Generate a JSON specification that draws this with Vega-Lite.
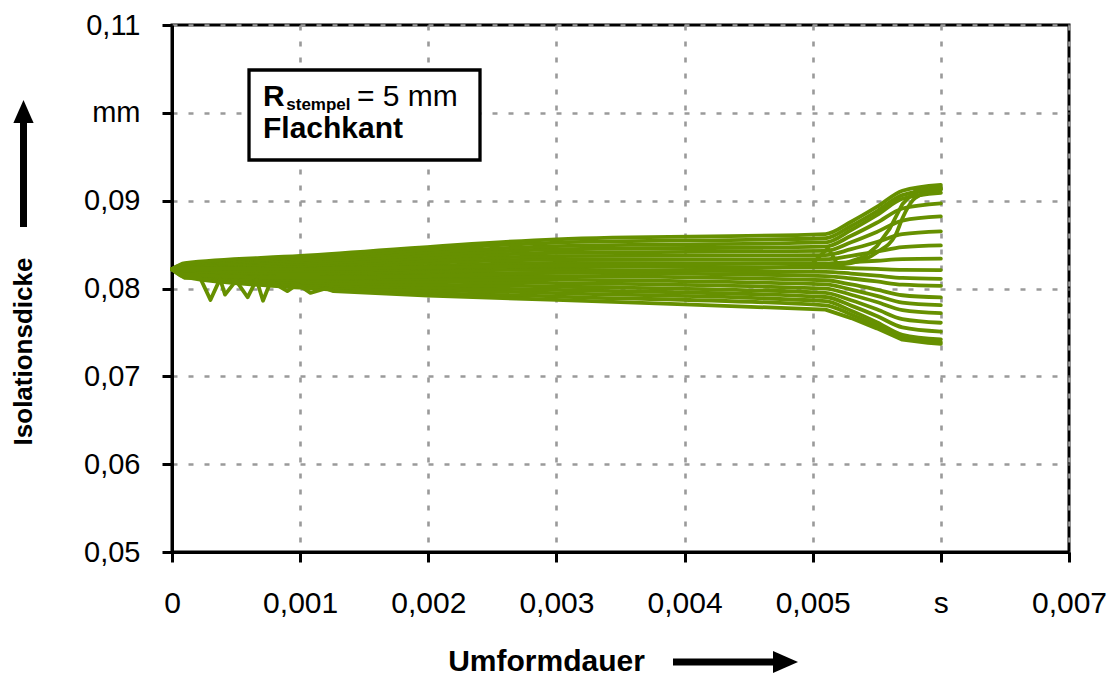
{
  "$schema": "https://vega.github.io/schema/vega-lite/v6.json",
  "width": 897,
  "height": 527,
  "autosize": {"type": "none"},
  "padding": {"left": 172, "top": 25, "right": 46, "bottom": 126},
  "background": "white",
  "config": {
    "view": {"stroke": "black", "strokeWidth": 3},
    "font": "Liberation Sans"
  },
  "datasets": {
    "curves": [
      {"s":0,"t":0,"d":0.0822},{"s":0,"t":0.0001,"d":0.0812},{"s":0,"t":0.00022,"d":0.0812},{"s":0,"t":0.0003,"d":0.0787},{"s":0,"t":0.000375,"d":0.0811},{"s":0,"t":0.000414,"d":0.0793},{"s":0,"t":0.0005,"d":0.0809},{"s":0,"t":0.00059,"d":0.079},{"s":0,"t":0.00066,"d":0.081},{"s":0,"t":0.00071,"d":0.0786},{"s":0,"t":0.00077,"d":0.0808},{"s":0,"t":0.0009,"d":0.0797},{"s":0,"t":0.00098,"d":0.0805},{"s":0,"t":0.00108,"d":0.0795},{"s":0,"t":0.0012,"d":0.08},{"s":0,"t":0.00126,"d":0.0797},{"s":0,"t":0.002,"d":0.0792},{"s":0,"t":0.003,"d":0.0787},{"s":0,"t":0.004,"d":0.0782},{"s":0,"t":0.0051,"d":0.0776},{"s":0,"t":0.0053,"d":0.07663},{"s":0,"t":0.0055,"d":0.07546},{"s":0,"t":0.0057,"d":0.07417},{"s":0,"t":0.0059,"d":0.0738},{"s":0,"t":0.006,"d":0.0737},
      {"s":1,"t":0,"d":0.0822},{"s":1,"t":0.0001,"d":0.08129},{"s":1,"t":0.001,"d":0.08011},{"s":1,"t":0.003,"d":0.07908},{"s":1,"t":0.0051,"d":0.07808},{"s":1,"t":0.0053,"d":0.07704},{"s":1,"t":0.0055,"d":0.07578},{"s":1,"t":0.0057,"d":0.0744},{"s":1,"t":0.006,"d":0.0739},
      {"s":2,"t":0,"d":0.0822},{"s":2,"t":0.0001,"d":0.08139},{"s":2,"t":0.001,"d":0.08032},{"s":2,"t":0.003,"d":0.07947},{"s":2,"t":0.0051,"d":0.07856},{"s":2,"t":0.0053,"d":0.07747},{"s":2,"t":0.0055,"d":0.07616},{"s":2,"t":0.0057,"d":0.07472},{"s":2,"t":0.006,"d":0.0742},
      {"s":3,"t":0,"d":0.0822},{"s":3,"t":0.0001,"d":0.08148},{"s":3,"t":0.001,"d":0.08053},{"s":3,"t":0.003,"d":0.07985},{"s":3,"t":0.0051,"d":0.07903},{"s":3,"t":0.0053,"d":0.07805},{"s":3,"t":0.0055,"d":0.07687},{"s":3,"t":0.0057,"d":0.07557},{"s":3,"t":0.006,"d":0.0751},
      {"s":4,"t":0,"d":0.0822},{"s":4,"t":0.0001,"d":0.08158},{"s":4,"t":0.001,"d":0.08074},{"s":4,"t":0.003,"d":0.08023},{"s":4,"t":0.0051,"d":0.07951},{"s":4,"t":0.0053,"d":0.07866},{"s":4,"t":0.0055,"d":0.07763},{"s":4,"t":0.0057,"d":0.07651},{"s":4,"t":0.006,"d":0.0761},
      {"s":5,"t":0,"d":0.0822},{"s":5,"t":0.0001,"d":0.08167},{"s":5,"t":0.001,"d":0.08096},{"s":5,"t":0.003,"d":0.08062},{"s":5,"t":0.0051,"d":0.07999},{"s":5,"t":0.0053,"d":0.07929},{"s":5,"t":0.0055,"d":0.07846},{"s":5,"t":0.0057,"d":0.07754},{"s":5,"t":0.006,"d":0.0772},
      {"s":6,"t":0,"d":0.0822},{"s":6,"t":0.0001,"d":0.08177},{"s":6,"t":0.001,"d":0.08117},{"s":6,"t":0.003,"d":0.081},{"s":6,"t":0.0051,"d":0.08047},{"s":6,"t":0.0053,"d":0.07988},{"s":6,"t":0.0055,"d":0.07917},{"s":6,"t":0.0057,"d":0.07838},{"s":6,"t":0.006,"d":0.0781},
      {"s":7,"t":0,"d":0.0822},{"s":7,"t":0.0001,"d":0.08186},{"s":7,"t":0.001,"d":0.08138},{"s":7,"t":0.003,"d":0.08138},{"s":7,"t":0.0051,"d":0.08094},{"s":7,"t":0.0053,"d":0.08046},{"s":7,"t":0.0055,"d":0.07987},{"s":7,"t":0.0057,"d":0.07923},{"s":7,"t":0.006,"d":0.079},
      {"s":8,"t":0,"d":0.0822},{"s":8,"t":0.0001,"d":0.08196},{"s":8,"t":0.001,"d":0.08159},{"s":8,"t":0.003,"d":0.08177},{"s":8,"t":0.0051,"d":0.08142},{"s":8,"t":0.0053,"d":0.08114},{"s":8,"t":0.0055,"d":0.0808},{"s":8,"t":0.0057,"d":0.08043},{"s":8,"t":0.006,"d":0.0803},
      {"s":9,"t":0,"d":0.0822},{"s":9,"t":0.0001,"d":0.08205},{"s":9,"t":0.001,"d":0.0818},{"s":9,"t":0.003,"d":0.08215},{"s":9,"t":0.0051,"d":0.0819},{"s":9,"t":0.0053,"d":0.0817},{"s":9,"t":0.0055,"d":0.08146},{"s":9,"t":0.0057,"d":0.0812},{"s":9,"t":0.006,"d":0.0811},
      {"s":10,"t":0,"d":0.0822},{"s":10,"t":0.0001,"d":0.08214},{"s":10,"t":0.001,"d":0.08201},{"s":10,"t":0.003,"d":0.08253},{"s":10,"t":0.0051,"d":0.08238},{"s":10,"t":0.0053,"d":0.08231},{"s":10,"t":0.0055,"d":0.08223},{"s":10,"t":0.0057,"d":0.08213},{"s":10,"t":0.006,"d":0.0821},
      {"s":11,"t":0,"d":0.0822},{"s":11,"t":0.0001,"d":0.08224},{"s":11,"t":0.001,"d":0.08222},{"s":11,"t":0.003,"d":0.08292},{"s":11,"t":0.0051,"d":0.08286},{"s":11,"t":0.0053,"d":0.083},{"s":11,"t":0.0055,"d":0.08316},{"s":11,"t":0.0057,"d":0.08334},{"s":11,"t":0.006,"d":0.0834},
      {"s":12,"t":0,"d":0.0822},{"s":12,"t":0.0001,"d":0.08233},{"s":12,"t":0.001,"d":0.08243},{"s":12,"t":0.003,"d":0.0833},{"s":12,"t":0.0051,"d":0.08333},{"s":12,"t":0.0053,"d":0.08372},{"s":12,"t":0.0055,"d":0.08419},{"s":12,"t":0.0057,"d":0.08471},{"s":12,"t":0.006,"d":0.0849},
      {"s":13,"t":0,"d":0.0822},{"s":13,"t":0.0001,"d":0.08243},{"s":13,"t":0.001,"d":0.08264},{"s":13,"t":0.003,"d":0.08368},{"s":13,"t":0.0051,"d":0.08381},{"s":13,"t":0.0053,"d":0.08448},{"s":13,"t":0.0055,"d":0.08529},{"s":13,"t":0.0057,"d":0.08618},{"s":13,"t":0.006,"d":0.0865},
      {"s":14,"t":0,"d":0.0822},{"s":14,"t":0.0001,"d":0.08252},{"s":14,"t":0.001,"d":0.08286},{"s":14,"t":0.003,"d":0.08407},{"s":14,"t":0.0051,"d":0.08429},{"s":14,"t":0.0053,"d":0.08527},{"s":14,"t":0.0055,"d":0.08644},{"s":14,"t":0.0057,"d":0.08773},{"s":14,"t":0.006,"d":0.0882},
      {"s":15,"t":0,"d":0.0822},{"s":15,"t":0.0001,"d":0.08262},{"s":15,"t":0.001,"d":0.08307},{"s":15,"t":0.003,"d":0.08445},{"s":15,"t":0.0051,"d":0.08477},{"s":15,"t":0.0053,"d":0.086},{"s":15,"t":0.0055,"d":0.08748},{"s":15,"t":0.0057,"d":0.08911},{"s":15,"t":0.006,"d":0.0897},
      {"s":16,"t":0,"d":0.0822},{"s":16,"t":0.0001,"d":0.08271},{"s":16,"t":0.001,"d":0.08328},{"s":16,"t":0.003,"d":0.08483},{"s":16,"t":0.0051,"d":0.08524},{"s":16,"t":0.0053,"d":0.08666},{"s":16,"t":0.0055,"d":0.08835},{"s":16,"t":0.0057,"d":0.09022},{"s":16,"t":0.006,"d":0.0909},
      {"s":17,"t":0,"d":0.0822},{"s":17,"t":0.0001,"d":0.08281},{"s":17,"t":0.001,"d":0.08349},{"s":17,"t":0.003,"d":0.08522},{"s":17,"t":0.0051,"d":0.08572},{"s":17,"t":0.0053,"d":0.08712},{"s":17,"t":0.0055,"d":0.08879},{"s":17,"t":0.0057,"d":0.09063},{"s":17,"t":0.006,"d":0.0913},
      {"s":18,"t":0,"d":0.0822},{"s":18,"t":0.0001,"d":0.0829},{"s":18,"t":0.001,"d":0.0837},{"s":18,"t":0.003,"d":0.0856},{"s":18,"t":0.0051,"d":0.0862},{"s":18,"t":0.0053,"d":0.0876},{"s":18,"t":0.0055,"d":0.08928},{"s":18,"t":0.0057,"d":0.09113},{"s":18,"t":0.006,"d":0.0918},
      {"s":19,"t":0,"d":0.0822},{"s":19,"t":0.0001,"d":0.0823},{"s":19,"t":0.001,"d":0.0822},{"s":19,"t":0.003,"d":0.0826},{"s":19,"t":0.005,"d":0.0829},{"s":19,"t":0.00512,"d":0.0846},{"s":19,"t":0.0052,"d":0.0826},{"s":19,"t":0.0054,"d":0.0836},{"s":19,"t":0.0055,"d":0.0848},{"s":19,"t":0.0056,"d":0.0868},{"s":19,"t":0.0057,"d":0.0896},{"s":19,"t":0.0058,"d":0.0911},{"s":19,"t":0.006,"d":0.0915},
      {"s":20,"t":0,"d":0.0822},{"s":20,"t":0.0001,"d":0.0816},{"s":20,"t":0.001,"d":0.0812},{"s":20,"t":0.003,"d":0.0818},{"s":20,"t":0.005,"d":0.0826},{"s":20,"t":0.0053,"d":0.0829},{"s":20,"t":0.0055,"d":0.0841},{"s":20,"t":0.00565,"d":0.0862},{"s":20,"t":0.0057,"d":0.088},{"s":20,"t":0.0058,"d":0.0903},{"s":20,"t":0.006,"d":0.0913}
    ]
  },
  "layer": [
    {
      "data": {"name": "curves"},
      "transform": [{"filter": "datum.s != 0 && datum.s != 19"}],
      "mark": {"type": "line", "color": "#669000", "strokeWidth": 3.8, "strokeJoin": "round", "strokeCap": "round", "interpolate": "monotone"},
      "encoding": {
        "x": {
          "field": "t", "type": "quantitative",
          "scale": {"domain": [0, 0.007], "nice": false, "zero": false},
          "axis": {
            "values": [0, 0.001, 0.002, 0.003, 0.004, 0.005, 0.006, 0.007],
            "labelExpr": "datum.value == 0 ? '0' : (abs(datum.value - 0.006) < 1e-9 ? 's' : replace(format(datum.value, '.3f'), '.', ','))",
            "labelFont": "Liberation Sans", "labelFontSize": 30, "labelColor": "black",
            "labelBaseline": "middle", "labelPadding": 41, "labelFlush": false, "labelOverlap": false,
            "tickSize": 10, "tickWidth": 3, "tickColor": "black",
            "domainColor": "black", "domainWidth": 3,
            "grid": true, "gridColor": "#9a9a9a", "gridDash": [5, 11], "gridWidth": 2.6,
            "title": "Umformdauer", "titleFont": "Liberation Sans", "titleFontSize": 30, "titleFontWeight": "bold", "titleColor": "black",
            "titleX": 374, "titleY": 118, "titleAlign": "center", "titleBaseline": "alphabetic", "titleAngle": 0
          }
        },
        "y": {
          "field": "d", "type": "quantitative",
          "scale": {"domain": [0.05, 0.11], "nice": false, "zero": false},
          "axis": {
            "values": [0.05, 0.06, 0.07, 0.08, 0.09, 0.1, 0.11],
            "labelExpr": "abs(datum.value - 0.1) < 1e-9 ? 'mm' : replace(format(datum.value, '.2f'), '.', ',')",
            "labelFont": "Liberation Sans", "labelFontSize": 29, "labelColor": "black",
            "labelBaseline": "middle", "labelAlign": "right", "labelPadding": 22, "labelFlush": false, "labelOverlap": false,
            "tickSize": 10, "tickWidth": 3, "tickColor": "black",
            "domainColor": "black", "domainWidth": 3,
            "grid": true, "gridColor": "#9a9a9a", "gridDash": [5, 11], "gridWidth": 2.6,
            "title": "Isolationsdicke", "titleFont": "Liberation Sans", "titleFontSize": 26, "titleFontWeight": "bold", "titleColor": "black",
            "titleX": -149, "titleY": 326, "titleAlign": "center", "titleBaseline": "middle", "titleAngle": -90
          }
        },
        "detail": {"field": "s", "type": "nominal"}
      }
    },
    {
      "data": {"name": "curves"},
      "transform": [{"filter": "datum.s == 0 || datum.s == 19"}],
      "mark": {"type": "line", "color": "#669000", "strokeWidth": 3.8, "strokeJoin": "round", "strokeCap": "round"},
      "encoding": {
        "x": {"field": "t", "type": "quantitative"},
        "y": {"field": "d", "type": "quantitative"},
        "detail": {"field": "s", "type": "nominal"}
      }
    },
    {
      "data": {"values": [{}]},
      "mark": {"type": "rect", "fill": "white", "stroke": "black", "strokeWidth": 3.3},
      "encoding": {
        "x": {"datum": 0.000601, "type": "quantitative"},
        "x2": {"datum": 0.0024036},
        "y": {"datum": 0.104877, "type": "quantitative"},
        "y2": {"datum": 0.09463}
      }
    },
    {
      "data": {"values": [{}]},
      "mark": {"type": "text", "text": "R", "font": "Liberation Sans", "fontSize": 30, "fontWeight": "bold", "align": "left", "baseline": "alphabetic", "color": "black"},
      "encoding": {
        "x": {"datum": 0.00071, "type": "quantitative"},
        "y": {"datum": 0.100778, "type": "quantitative"}
      }
    },
    {
      "data": {"values": [{}]},
      "mark": {"type": "text", "text": "stempel", "font": "Liberation Sans", "fontSize": 17, "fontWeight": "bold", "align": "left", "baseline": "alphabetic", "color": "black"},
      "encoding": {
        "x": {"datum": 0.000892, "type": "quantitative"},
        "y": {"datum": 0.100266, "type": "quantitative"}
      }
    },
    {
      "data": {"values": [{}]},
      "mark": {"type": "text", "text": "= 5 mm", "font": "Liberation Sans", "fontSize": 30, "align": "left", "baseline": "alphabetic", "color": "black"},
      "encoding": {
        "x": {"datum": 0.0014437, "type": "quantitative"},
        "y": {"datum": 0.100778, "type": "quantitative"}
      }
    },
    {
      "data": {"values": [{}]},
      "mark": {"type": "text", "text": "Flachkant", "font": "Liberation Sans", "fontSize": 30, "fontWeight": "bold", "align": "left", "baseline": "alphabetic", "color": "black"},
      "encoding": {
        "x": {"datum": 0.00071, "type": "quantitative"},
        "y": {"datum": 0.097079, "type": "quantitative"}
      }
    },
    {
      "data": {"values": [{}]},
      "mark": {"type": "rule", "color": "black", "strokeWidth": 7},
      "encoding": {
        "x": {"datum": 0.0039097, "type": "quantitative"},
        "x2": {"datum": 0.0047447},
        "y": {"datum": 0.037477, "type": "quantitative"}
      }
    },
    {
      "data": {"values": [{}]},
      "mark": {"type": "point", "shape": "M -1 -0.88 L 1 0 L -1 0.88 Z", "size": 625, "filled": true, "color": "black", "opacity": 1, "strokeWidth": 0},
      "encoding": {
        "x": {"datum": 0.0047876, "type": "quantitative"},
        "y": {"datum": 0.037477, "type": "quantitative"}
      }
    },
    {
      "data": {"values": [{}]},
      "mark": {"type": "rule", "color": "black", "strokeWidth": 7},
      "encoding": {
        "x": {"datum": -0.0011589, "type": "quantitative"},
        "y": {"datum": 0.087002, "type": "quantitative"},
        "y2": {"datum": 0.099412}
      }
    },
    {
      "data": {"values": [{}]},
      "mark": {"type": "point", "shape": "M -0.88 1 L 0 -1 L 0.88 1 Z", "size": 529, "filled": true, "color": "black", "opacity": 1, "strokeWidth": 0},
      "encoding": {
        "x": {"datum": -0.0011589, "type": "quantitative"},
        "y": {"datum": 0.100152, "type": "quantitative"}
      }
    }
  ]
}
